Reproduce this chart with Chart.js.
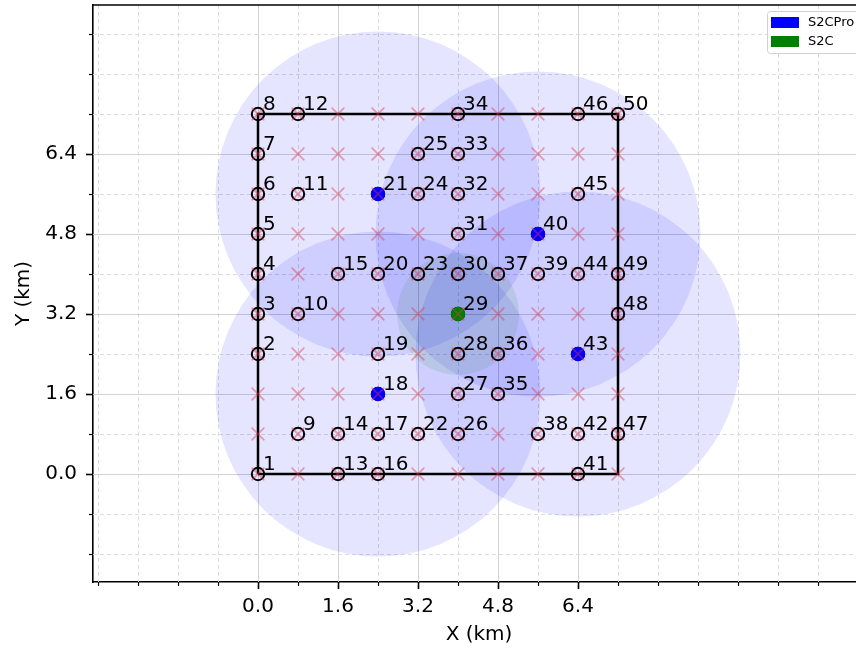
<!DOCTYPE html>
<html>
<head>
<meta charset="utf-8">
<script src="https://cdn.jsdelivr.net/npm/chart.js@4.4.1/dist/chart.umd.min.js"></script>
<style>
  html, body { margin: 0; padding: 0; background: #fff; overflow: hidden; }
  #wrap { width: 856px; height: 652px; overflow: hidden; position: relative; }
  canvas { display: block; }
</style>
</head>
<body>
<div id="wrap"><canvas id="chart" width="900" height="652"></canvas></div>
<script>
// sensor nodes (km)
var nodeIds = [1, 2, 3, 4, 5, 6, 7, 8, 9, 10, 11, 12, 13, 14, 15, 16, 17, 18, 19, 20,
  21, 22, 23, 24, 25, 26, 27, 28, 29, 30, 31, 32, 33, 34, 35, 36, 37, 38, 39, 40,
  41, 42, 43, 44, 45, 46, 47, 48, 49, 50];
var nodeX = [0, 0, 0, 0, 0, 0, 0, 0, 0.8, 0.8, 0.8, 0.8, 1.6, 1.6, 1.6, 2.4, 2.4, 2.4, 2.4, 2.4,
  2.4, 3.2, 3.2, 3.2, 3.2, 4.0, 4.0, 4.0, 4.0, 4.0, 4.0, 4.0, 4.0, 4.0, 4.8, 4.8, 4.8, 5.6, 5.6, 5.6,
  6.4, 6.4, 6.4, 6.4, 6.4, 6.4, 7.2, 7.2, 7.2, 7.2];
var nodeY = [0, 2.4, 3.2, 4.0, 4.8, 5.6, 6.4, 7.2, 0.8, 3.2, 5.6, 7.2, 0, 0.8, 4.0, 0, 0.8, 1.6, 2.4, 4.0,
  5.6, 0.8, 4.0, 5.6, 6.4, 0.8, 1.6, 2.4, 3.2, 4.0, 4.8, 5.6, 6.4, 7.2, 1.6, 2.4, 4.0, 0.8, 4.0, 4.8,
  0, 0.8, 2.4, 4.0, 5.6, 7.2, 0.8, 3.2, 4.0, 7.2];

// candidate grid positions
var gridCoords = [0, 0.8, 1.6, 2.4, 3.2, 4.0, 4.8, 5.6, 6.4, 7.2];

// gateway placement
var proNodes = [18, 21, 40, 43];
var baseNodes = [29];
var proRange = 3.25;
var baseRange = 1.22;

// deployment area
var boundaryX = [0, 7.2, 7.2, 0, 0];
var boundaryY = [0, 0, 7.2, 7.2, 0];

// axes
var xTickValues = [-3.2, -2.4, -1.6, -0.8, 0, 0.8, 1.6, 2.4, 3.2, 4.0, 4.8, 5.6, 6.4, 7.2,
  8.0, 8.8, 9.6, 10.4, 11.2, 12.0];
var yTickValues = [-1.6, -0.8, 0, 0.8, 1.6, 2.4, 3.2, 4.0, 4.8, 5.6, 6.4, 7.2, 8.0, 8.8];
var majorTicks = [0, 1.6, 3.2, 4.8, 6.4];

var legendLabels = ['S2CPro', 'S2C'];
var legendColors = ['#0000ff', '#008000'];

function isMajor(v) {
  return majorTicks.some(function (m) { return Math.abs(m - v) < 1e-6; });
}

function pickNodes(ids) {
  return ids.map(function (id) {
    var i = nodeIds.indexOf(id);
    return { x: nodeX[i], y: nodeY[i] };
  });
}

function rangeInPixels(r) {
  return function (c) {
    var s = c.chart.scales.x;
    if (!s) return 0;
    return Math.abs(s.getPixelForValue(r) - s.getPixelForValue(0));
  };
}

var gridPoints = [];
gridCoords.forEach(function (gx) {
  gridCoords.forEach(function (gy) { gridPoints.push({ x: gx, y: gy }); });
});

var nodePoints = nodeX.map(function (x, i) { return { x: x, y: nodeY[i] }; });
var boundary = boundaryX.map(function (x, i) { return { x: x, y: boundaryY[i] }; });

var FONT = "'DejaVu Sans', sans-serif";

// grid lines under the data, dashed for minor positions
var gridPlugin = {
  id: 'mplGrid',
  beforeDatasetsDraw: function (chart) {
    var ctx = chart.ctx, a = chart.chartArea;
    var sx = chart.scales.x, sy = chart.scales.y;
    ctx.save();
    ctx.lineWidth = 1;
    function line(x1, y1, x2, y2, major) {
      ctx.strokeStyle = major ? '#d2d2d2' : '#dcdcdc';
      ctx.setLineDash(major ? [] : [4, 3]);
      ctx.beginPath();
      ctx.moveTo(x1, y1);
      ctx.lineTo(x2, y2);
      ctx.stroke();
    }
    xTickValues.forEach(function (v) {
      var px = Math.round(sx.getPixelForValue(v)) + 0.5;
      if (px > a.left + 1 && px < a.right) line(px, a.top, px, a.bottom, isMajor(v));
    });
    yTickValues.forEach(function (v) {
      var py = Math.round(sy.getPixelForValue(v)) + 0.5;
      if (py > a.top && py < a.bottom - 1) line(a.left, py, a.right, py, isMajor(v));
    });
    ctx.restore();
  }
};

// node id labels, tick marks, top spine, legend
var overlayPlugin = {
  id: 'overlay',
  afterDatasetsDraw: function (chart) {
    var ctx = chart.ctx;
    var sx = chart.scales.x, sy = chart.scales.y;
    ctx.save();
    ctx.fillStyle = '#000';
    ctx.font = '20px ' + FONT;
    ctx.textAlign = 'left';
    ctx.textBaseline = 'alphabetic';
    nodeIds.forEach(function (id, i) {
      var px = sx.getPixelForValue(nodeX[i]);
      var py = sy.getPixelForValue(nodeY[i]);
      ctx.fillText(String(id), px + 5, py - 4);
    });
    ctx.restore();
  },
  afterDraw: function (chart) {
    var ctx = chart.ctx, a = chart.chartArea;
    var sx = chart.scales.x, sy = chart.scales.y;
    ctx.save();
    ctx.strokeStyle = '#000';
    xTickValues.forEach(function (v) {
      var px = Math.round(sx.getPixelForValue(v)) + 0.5;
      var major = isMajor(v);
      ctx.lineWidth = major ? 1.6 : 1.2;
      ctx.beginPath();
      ctx.moveTo(px, a.bottom);
      ctx.lineTo(px, a.bottom + (major ? 7 : 4));
      ctx.stroke();
    });
    yTickValues.forEach(function (v) {
      var py = Math.round(sy.getPixelForValue(v)) + 0.5;
      var major = isMajor(v);
      ctx.lineWidth = major ? 1.6 : 1.2;
      ctx.beginPath();
      ctx.moveTo(a.left, py);
      ctx.lineTo(a.left - (major ? 7 : 4), py);
      ctx.stroke();
    });
    // top spine
    ctx.lineWidth = 1.6;
    ctx.beginPath();
    ctx.moveTo(a.left, a.top);
    ctx.lineTo(a.right, a.top);
    ctx.stroke();

    // legend box in the upper right corner
    var lx = 767, ly = 11, lw = 96, lh = 42;
    ctx.fillStyle = 'rgba(255,255,255,0.85)';
    ctx.strokeStyle = '#d0d0d0';
    ctx.lineWidth = 1;
    ctx.beginPath();
    if (ctx.roundRect) ctx.roundRect(lx + 0.5, ly + 0.5, lw, lh, 3);
    else ctx.rect(lx + 0.5, ly + 0.5, lw, lh);
    ctx.fill();
    ctx.stroke();
    ctx.font = '13px ' + FONT;
    ctx.textBaseline = 'middle';
    ctx.textAlign = 'left';
    legendLabels.forEach(function (label, i) {
      var ry = 17 + i * 19;
      ctx.fillStyle = legendColors[i];
      ctx.fillRect(771, ry, 28, 11);
      ctx.fillStyle = '#000';
      ctx.fillText(label, 808, ry + 6);
    });
    ctx.restore();
  }
};

function axisOptions(ticksList, title, fitSize, isX) {
  return {
    type: 'linear',
    min: isX ? -3.3 : -2.16,
    max: isX ? 12.14 : 9.38,
    afterBuildTicks: function (scale) {
      scale.ticks = ticksList.map(function (v) { return { value: v }; });
    },
    afterFit: function (scale) {
      if (isX) scale.height = fitSize; else scale.width = fitSize;
      // keep the plot box fixed; no extra room for overhanging labels
      scale.paddingTop = 0;
      scale.paddingBottom = 0;
      scale.paddingLeft = 0;
      scale.paddingRight = 0;
    },
    grid: {
      drawOnChartArea: false,
      drawTicks: true,
      tickLength: 7,
      tickColor: 'rgba(0,0,0,0)'
    },
    border: { display: true, color: '#000', width: 1.6 },
    ticks: {
      autoSkip: false,
      maxRotation: 0,
      padding: isX ? 6 : 9,
      color: '#000',
      font: { family: FONT, size: 20 },
      callback: function (v) { return isMajor(v) ? v.toFixed(1) : ''; }
    },
    title: {
      display: true,
      text: title,
      color: '#000',
      font: { family: FONT, size: 20 },
      padding: isX ? { top: 0, bottom: 5 } : { top: 12, bottom: 0 }
    }
  };
}

new Chart(document.getElementById('chart').getContext('2d'), {
  type: 'scatter',
  data: {
    datasets: [
      {
        label: 'S2CPro range',
        data: pickNodes(proNodes),
        pointRadius: rangeInPixels(proRange),
        pointBackgroundColor: 'rgba(0,0,255,0.1)',
        pointBorderWidth: 0,
        pointBorderColor: 'rgba(0,0,0,0)',
        order: 6
      },
      {
        label: 'S2C range',
        data: pickNodes(baseNodes),
        pointRadius: rangeInPixels(baseRange),
        pointBackgroundColor: 'rgba(0,128,0,0.1)',
        pointBorderWidth: 0,
        pointBorderColor: 'rgba(0,0,0,0)',
        order: 5
      },
      {
        label: 'Area',
        data: boundary,
        showLine: true,
        borderColor: '#000',
        borderWidth: 2.5,
        pointRadius: 0,
        fill: false,
        order: 4
      },
      {
        label: 'Nodes',
        data: nodePoints,
        pointRadius: 6.2,
        pointBackgroundColor: 'rgba(0,0,0,0)',
        pointBorderColor: '#000',
        pointBorderWidth: 2,
        order: 3
      },
      {
        label: 'S2CPro',
        data: pickNodes(proNodes),
        pointRadius: 7.2,
        pointBackgroundColor: '#0000ff',
        pointBorderWidth: 0,
        order: 2
      },
      {
        label: 'S2C',
        data: pickNodes(baseNodes),
        pointRadius: 7.2,
        pointBackgroundColor: '#008000',
        pointBorderWidth: 0,
        order: 2
      },
      {
        label: 'Candidates',
        data: gridPoints,
        pointStyle: 'crossRot',
        pointRadius: 9,
        pointBorderColor: 'rgba(225,50,70,0.45)',
        pointBorderWidth: 1.6,
        order: 1
      }
    ]
  },
  options: {
    responsive: false,
    animation: false,
    events: [],
    // plot box runs a little past the visible right edge
    layout: { autoPadding: false, padding: { top: 5, right: 35, left: 0, bottom: 0 } },
    plugins: {
      legend: { display: false },
      tooltip: { enabled: false }
    },
    scales: {
      x: axisOptions(xTickValues, 'X (km)', 70, true),
      y: axisOptions(yTickValues, 'Y (km)', 93, false)
    }
  },
  plugins: [gridPlugin, overlayPlugin]
});
</script>
</body>
</html>
